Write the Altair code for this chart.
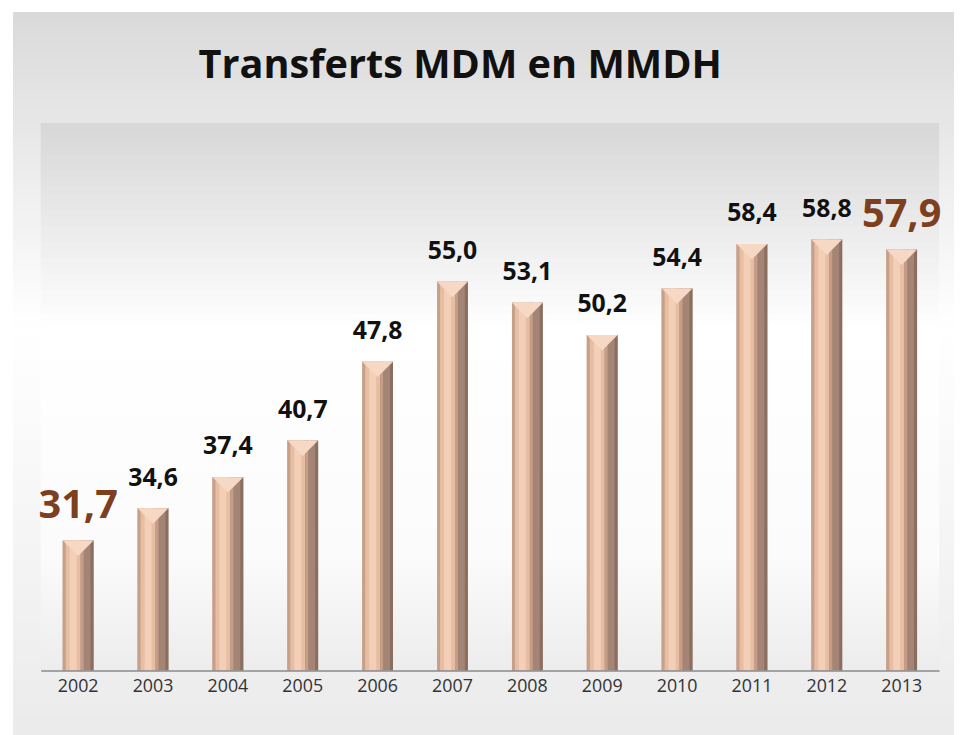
import altair as alt
import pandas as pd

years = ["2002", "2003", "2004", "2005", "2006", "2007", "2008", "2009", "2010", "2011", "2012", "2013"]
values = [31.7, 34.6, 37.4, 40.7, 47.8, 55.0, 53.1, 50.2, 54.4, 58.4, 58.8, 57.9]
labels = ["31,7", "34,6", "37,4", "40,7", "47,8", "55,0", "53,1", "50,2", "54,4", "58,4", "58,8", "57,9"]
kinds = ["end", "mid", "mid", "mid", "mid", "mid", "mid", "mid", "mid", "mid", "mid", "end"]
title_text = "Transferts MDM en MMDH"
baseline_value = 20

df = pd.DataFrame({"year": years, "value": values, "label": labels, "kind": kinds,
                   "base": [baseline_value] * len(years)})

W, H = 906, 560


def gray_expr(g):
    return "'rgb(' + round(" + g + ") + ',' + round(" + g + ") + ',' + round(" + g + ") + ')'"


# outer background stripes (vertical gradient: gray -> white -> light gray)
outer_bg = alt.Chart(alt.sequence(0, 92, as_="i")).transform_calculate(
    y0="-104 + 8 * datum.i", y1="-104 + 8 * datum.i + 9"
).transform_calculate(
    py="datum.y0 + 4 + 113"
).transform_calculate(
    g="datum.py < 330 ? 218 + 37 * (datum.py - 9) / 321 : 255 - 20 * (datum.py - 330) / 405"
).transform_calculate(
    c=gray_expr("datum.g")
).mark_rect().encode(
    x=alt.value(-28), x2=alt.value(W + 15),
    y=alt.Y("y0:Q", scale=None), y2=alt.Y2("y1:Q"),
    color=alt.Color("c:N", scale=None)
)

inner_bg = alt.Chart(alt.sequence(0, 69, as_="i")).transform_calculate(
    y0="8 + 8 * datum.i", y1="8 + 8 * datum.i + 9"
).transform_calculate(
    py="datum.y0 + 4 + 113"
).transform_calculate(
    g="datum.py < 330 ? 215 + 40 * (datum.py - 121) / 209 : (datum.py < 560 ? 255 - 4 * (datum.py - 330) / 230 : 251 - 15 * (datum.py - 560) / 113)"
).transform_calculate(
    c=gray_expr("datum.g")
).mark_rect().encode(
    x=alt.value(0), x2=alt.value(W),
    y=alt.Y("y0:Q", scale=None), y2=alt.Y2("y1:Q"),
    color=alt.Color("c:N", scale=None)
)

title = alt.Chart(alt.Data(values=[{"t": title_text}])).mark_text(
    font="Open Sans", fontWeight="bold", fontSize=40, color="#111111",
    align="center", baseline="alphabetic"
).encode(text="t:N", x=alt.value(423), y=alt.value(-37))

x = alt.X("year:N", sort=years,
          scale=alt.Scale(paddingInner=0, paddingOuter=0),
          axis=alt.Axis(title=None, labelAngle=0, ticks=False, grid=False,
                        domainColor="#8a8a8a", domainWidth=1.5, zindex=1,
                        labelFont="Open Sans", labelFontSize=18, labelColor="#333333",
                        labelPadding=7))
y = alt.Y("value:Q", scale=alt.Scale(domain=[20, 70], zero=False, nice=False), axis=None)
y2 = alt.Y2("base:Q")

base = alt.Chart(df)


def strip(width, offset, color):
    return base.mark_bar(size=width, xOffset=offset, color=color).encode(x=x, y=y, y2=y2)


bar_layers = [
    strip(31, 0, "#a48474"),
    strip(18, -6.5, "#e8bea3"),
    strip(7, -5, "#f3cfb7"),
    strip(3, -14, "#c6a08a"),
    strip(3, 4, "#c49e88"),
    strip(3, 14, "#8a6e60"),
]

chevron = base.mark_point(
    shape="M -1 0 L 1 0 L 0 1 Z", size=961, filled=True, opacity=1, strokeWidth=0,
    color="#f6d8c4"
).encode(x=x, y=y)

small_labels = base.transform_filter(alt.datum.kind == "mid").mark_text(
    font="Open Sans", fontWeight="bold", fontSize=25, color="#111111",
    align="center", baseline="alphabetic", dy=-23
).encode(x=x, y=y, text="label:N")

big_labels = base.transform_filter(alt.datum.kind == "end").mark_text(
    font="Open Sans", fontWeight="bold", fontSize=40, color="#7d3f1d",
    align="center", baseline="alphabetic", dy=-23
).encode(x=x, y=y, text="label:N")

chart = alt.layer(
    outer_bg, inner_bg, title, *bar_layers, chevron, small_labels, big_labels
).properties(
    width=W, height=H,
    autosize=alt.AutoSizeParams(type="none"),
    padding={"left": 33, "top": 105, "right": 15, "bottom": 62},
    background="white"
).configure_view(stroke=None)

chart.save("out.html", embed_options={"renderer": "svg", "actions": False})
